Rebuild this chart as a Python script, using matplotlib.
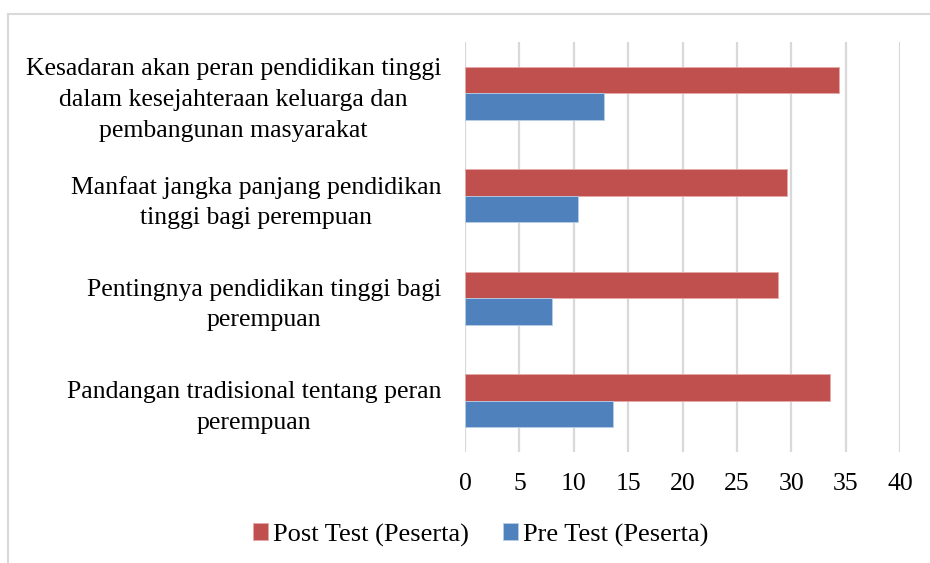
import matplotlib
matplotlib.use("Agg")
import matplotlib.pyplot as plt
from matplotlib.lines import Line2D
import numpy as np

categories = [
    "Pandangan tradisional tentang peran\nperempuan",
    "Pentingnya pendidikan tinggi bagi\nperempuan",
    "Manfaat jangka panjang pendidikan\ntinggi bagi perempuan",
    "Kesadaran akan peran pendidikan tinggi\ndalam kesejahteraan keluarga dan\npembangunan masyarakat",
]
post_test = [33.6, 28.8, 29.6, 34.4]
pre_test = [13.6, 8.0, 10.4, 12.8]
series_names = ["Post Test (Peserta)", "Pre Test (Peserta)"]
xticks = [0, 5, 10, 15, 20, 25, 30, 35, 40]

plt.rcParams['font.family'] = ['Liberation Serif', 'DejaVu Serif']

fig = plt.figure(figsize=(9.3, 5.63), dpi=100)
ax = fig.add_axes([465/930, 1-452/563, 435/930, 410/563])

y = np.arange(len(categories))
h = 0.26
ax.barh(y + h/2, post_test, height=h, color="#C0504D", edgecolor="#e8a9a7", linewidth=0.6, label=series_names[0], zorder=3)
ax.barh(y - h/2, pre_test, height=h, color="#4F81BD", edgecolor="#b9cde6", linewidth=0.6, label=series_names[1], zorder=3)

ax.set_xlim(0, 40)
ax.set_ylim(-0.5, len(categories) - 0.5)
ax.set_xticks(xticks)
ax.set_xticklabels([str(t) for t in xticks], fontsize=18.5)
ax.set_yticks(y)
ax.set_yticklabels(categories, fontsize=18.5, multialignment='center', linespacing=1.5)
ax.tick_params(axis='both', length=0)
ax.tick_params(axis='x', pad=15)
ax.tick_params(axis='y', pad=17)
ax.xaxis.grid(True, color="#d9d9d9", linewidth=1.6, zorder=0)
for s in ax.spines.values():
    s.set_visible(False)

handles, labels = ax.get_legend_handles_labels()
leg = fig.legend(handles, labels, loc='center', bbox_to_anchor=(0.517, 1-535/563),
                 ncol=2, frameon=False, fontsize=19, handlelength=0.55, handleheight=0.6,
                 handletextpad=0.2, columnspacing=1.3, borderpad=0, borderaxespad=0)

# outer chart border
fig.add_artist(Line2D([8/930, 8/930], [0, 1-13.5/563], color="#d9d9d9", linewidth=1.5, transform=fig.transFigure))
fig.add_artist(Line2D([8/930, 1], [1-13.5/563, 1-13.5/563], color="#d9d9d9", linewidth=1.5, transform=fig.transFigure))

fig.savefig("out.png", dpi=100)
